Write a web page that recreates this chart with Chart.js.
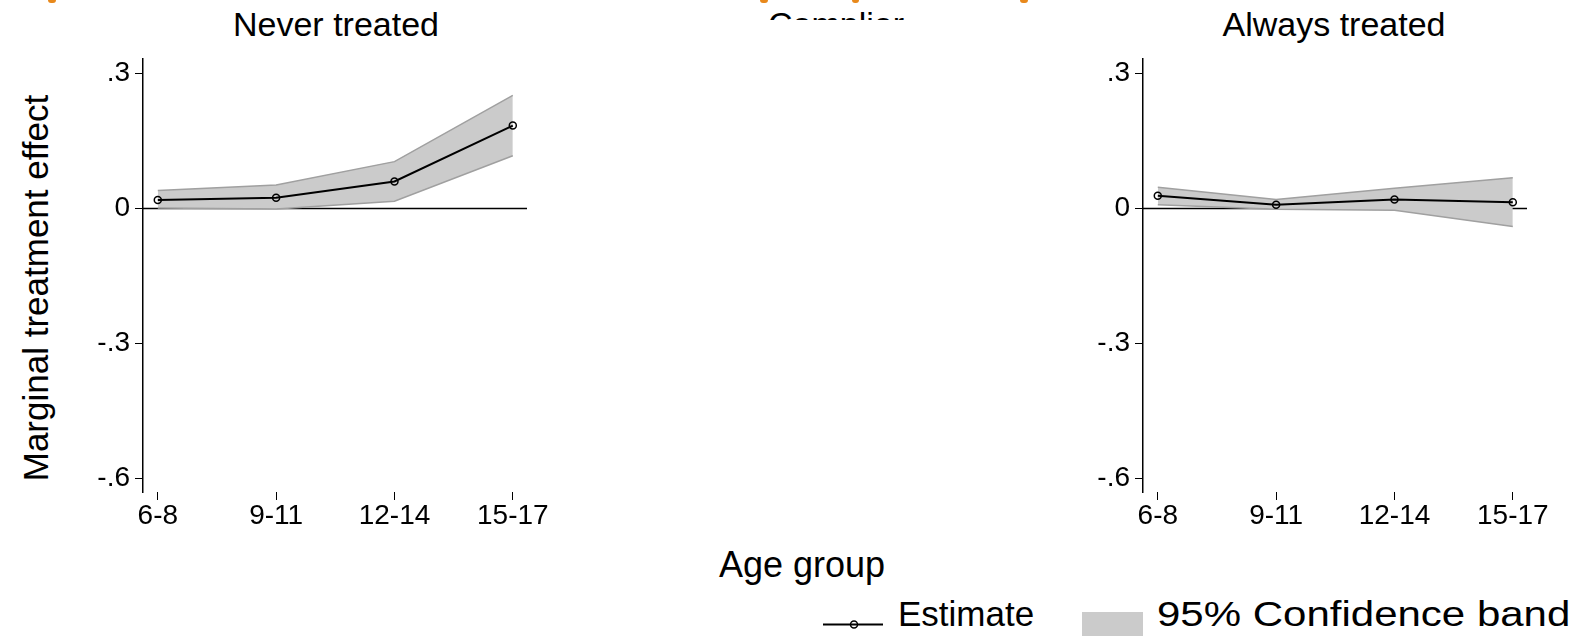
<!DOCTYPE html>
<html>
<head>
<meta charset="utf-8">
<script src="https://cdn.jsdelivr.net/npm/chart.js@4/dist/chart.umd.min.js"></script>
<style>
  html, body { margin: 0; padding: 0; background: #fff; }
  body { width: 1577px; height: 636px; position: relative; overflow: hidden;
         font-family: "Liberation Sans", Arial, sans-serif; color: #000; }
  .abs { position: absolute; white-space: nowrap; line-height: 1; }
  .title { font-size: 34px; transform: translateX(-50%); }
  canvas { position: absolute; }
  .clip { position: absolute; overflow: hidden; }
  .mark { position: absolute; background: #e8891c; border-radius: 0 0 3px 3px; }
</style>
</head>
<body>

<div class="mark" style="left:48px; top:0; width:8px; height:3px;"></div>
<div class="mark" style="left:760px; top:0; width:8px; height:3px;"></div>
<div class="mark" style="left:852px; top:0; width:7px; height:3px;"></div>
<div class="mark" style="left:1020px; top:0; width:8px; height:3px;"></div>

<div class="abs title" style="left:336px; top:7px;">Never treated</div>
<div class="clip" style="left:600px; top:0; width:480px; height:20px;">
  <div class="abs title" style="left:236px; top:7px;">Complier</div>
</div>
<div class="abs title" style="left:1334px; top:7px;">Always treated</div>

<div class="abs" style="left:35px; top:288px; font-size:35px; transform:translate(-50%,-50%) rotate(-90deg);">Marginal treatment effect</div>

<canvas id="never" width="520" height="500" style="left:60px; top:40px;"></canvas>
<canvas id="always" width="520" height="500" style="left:1060px; top:40px;"></canvas>

<div class="abs" style="left:802px; top:547px; font-size:36px; transform:translateX(-50%);">Age group</div>

<svg class="abs" style="left:820px; top:612px;" width="70" height="24">
  <line x1="3" y1="12.5" x2="63" y2="12.5" stroke="#000" stroke-width="2"/>
  <circle cx="34" cy="12.5" r="3.5" fill="none" stroke="#000" stroke-width="1.5"/>
</svg>
<div class="abs" style="left:898px; top:596px; font-size:35px;">Estimate</div>
<div class="abs" style="left:1082px; top:612px; width:61px; height:30px; background:#cbcbcb;"></div>
<div class="abs" style="left:1157px; top:596px; font-size:35px; transform-origin:0 0; transform:scaleX(1.2);">95% Confidence band</div>

<script>
// Age groups on the horizontal axis
const categories = ['6-8', '9-11', '12-14', '15-17'];

// Vertical axis ticks
const yTickValues = [-0.6, -0.3, 0, 0.3];
const yTickLabels = ['-.6', '-.3', '0', '.3'];

// Never treated: estimate and 95% band
const neverEst = [0.019, 0.024, 0.060, 0.184];
const neverHi  = [0.040, 0.052, 0.104, 0.251];
const neverLo  = [0.001, -0.001, 0.016, 0.117];

// Always treated: estimate and 95% band
const alwaysEst = [0.028, 0.008, 0.020, 0.014];
const alwaysHi  = [0.047, 0.020, 0.045, 0.068];
const alwaysLo  = [0.008, -0.002, -0.004, -0.040];

const FONT = '"Liberation Sans", Arial, sans-serif';

// horizontal reference line at zero, under the band
const zeroLine = {
  id: 'zeroLine',
  beforeDatasetsDraw(chart) {
    const { ctx, chartArea, scales } = chart;
    const y = Math.round(scales.y.getPixelForValue(0)) + 0.5;
    ctx.save();
    ctx.strokeStyle = '#000';
    ctx.lineWidth = 1.6;
    ctx.beginPath();
    ctx.moveTo(chartArea.left, y);
    ctx.lineTo(chartArea.right, y);
    ctx.stroke();
    ctx.restore();
  }
};

function pts(values) {
  return values.map((v, i) => ({ x: i, y: v }));
}

function makePanel(id, est, hi, lo) {
  new Chart(document.getElementById(id), {
    type: 'line',
    data: {
      datasets: [
        { data: pts(hi), borderColor: '#a0a0a0', borderWidth: 1.5, pointRadius: 0,
          backgroundColor: '#cbcbcb', fill: '+1', tension: 0, order: 3 },
        { data: pts(lo), borderColor: '#a0a0a0', borderWidth: 1.5, pointRadius: 0,
          fill: false, tension: 0, order: 2 },
        { data: pts(est), borderColor: '#000', borderWidth: 2, pointRadius: 3.5,
          pointBorderWidth: 1.5, pointBorderColor: '#000',
          pointBackgroundColor: 'rgba(0,0,0,0)', fill: false, tension: 0, order: 1 }
      ]
    },
    options: {
      responsive: false,
      devicePixelRatio: 1,
      animation: false,
      layout: { padding: { top: 15, right: 53, bottom: 0, left: 0 } },
      plugins: { legend: { display: false }, tooltip: { enabled: false } },
      scales: {
        x: {
          type: 'linear', min: -0.125, max: 3.12,
          afterBuildTicks: s => { s.ticks = categories.map((c, i) => ({ value: i })); },
          afterFit: s => { s.height = 48; },
          border: { display: false },
          grid: { drawOnChartArea: false, drawTicks: true, tickLength: 8, color: '#000', lineWidth: 1 },
          ticks: { color: '#000', padding: 2, maxRotation: 0, autoSkip: false,
                   font: { family: FONT, size: 28, lineHeight: 1 },
                   callback: v => categories[v] }
        },
        y: {
          type: 'linear', min: -0.63, max: 0.332,
          afterBuildTicks: s => { s.ticks = yTickValues.map(v => ({ value: v })); },
          afterFit: s => { s.width = 83; },
          border: { display: true, color: '#000', width: 1.5 },
          grid: { drawOnChartArea: false, drawTicks: true, tickLength: 8, color: '#000', lineWidth: 1 },
          ticks: { color: '#000', padding: 5, autoSkip: false,
                   font: { family: FONT, size: 28, lineHeight: 1 },
                   callback: v => yTickLabels[yTickValues.indexOf(v)] }
        }
      }
    },
    plugins: [zeroLine]
  });
}

makePanel('never', neverEst, neverHi, neverLo);
makePanel('always', alwaysEst, alwaysHi, alwaysLo);
</script>
</body>
</html>
